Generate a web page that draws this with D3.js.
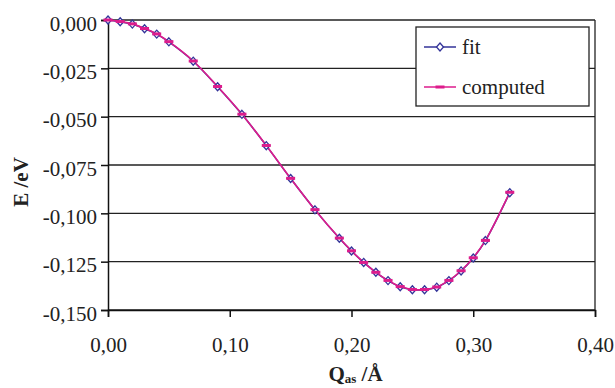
<!DOCTYPE html>
<html>
<head>
<meta charset="utf-8">
<script src="https://cdn.jsdelivr.net/npm/d3@7"></script>
<style>
  body { margin: 0; background: #fff; }
  text { font-family: "Liberation Serif", "Times New Roman", serif; fill: #222; }
</style>
</head>
<body>
<div id="chart"></div>
<script>
// data
var qValues = [0, 0.01, 0.02, 0.03, 0.04, 0.05, 0.07, 0.09, 0.11, 0.13, 0.15, 0.17, 0.19,
  0.20, 0.21, 0.22, 0.23, 0.24, 0.25, 0.26, 0.27, 0.28, 0.29, 0.30, 0.31, 0.33];
var fitValues = [0, -0.0009, -0.0021, -0.0045, -0.0073, -0.0113, -0.0213, -0.0345, -0.0488,
  -0.0650, -0.0820, -0.0982, -0.1129, -0.1195, -0.1254, -0.1305, -0.1348, -0.1380, -0.1395,
  -0.1395, -0.1382, -0.1348, -0.1298, -0.1231, -0.1141, -0.0893];
var computedValues = [0, -0.0008, -0.0020, -0.0044, -0.0072, -0.0112, -0.0212, -0.0344, -0.0487,
  -0.0649, -0.0819, -0.0981, -0.1128, -0.1194, -0.1254, -0.1305, -0.1347, -0.1379, -0.1394,
  -0.1394, -0.1381, -0.1347, -0.1297, -0.1230, -0.1140, -0.0891];
var xTicks = [0, 0.1, 0.2, 0.3, 0.4];
var yTicks = [0, -0.025, -0.05, -0.075, -0.1, -0.125, -0.15];
var seriesNames = ['fit', 'computed'];

var width = 615, height = 388;
var margin = {top: 20, right: 20, bottom: 78, left: 108};
var fitColor = '#333399', compColor = '#dd1c8c';

var svg = d3.select('#chart').append('svg')
  .attr('width', width)
  .attr('height', height);

var x = d3.scaleLinear().domain([0, 0.4]).range([margin.left, width - margin.right]);
var y = d3.scaleLinear().domain([-0.15, 0]).range([height - margin.bottom, margin.top]);

var comma = function (fmt) {
  return function (d) { return d3.format(fmt)(d).replace('.', ',').replace('−', '-'); };
};

// gridlines
svg.append('g')
  .selectAll('line')
  .data(yTicks)
  .join('line')
  .attr('x1', x(0)).attr('x2', x(0.4))
  .attr('y1', function (d) { return y(d); })
  .attr('y2', function (d) { return y(d); })
  .attr('stroke', '#222')
  .attr('stroke-width', 1.3);

// right border
svg.append('line')
  .attr('x1', x(0.4)).attr('x2', x(0.4))
  .attr('y1', y(0)).attr('y2', y(-0.15))
  .attr('stroke', '#222').attr('stroke-width', 1.3);

var yAxis = svg.append('g')
  .attr('transform', 'translate(' + x(0) + ',0)')
  .call(d3.axisLeft(y).tickValues(yTicks).tickSize(7).tickPadding(4).tickFormat(comma('.3f')));

var xAxis = svg.append('g')
  .attr('transform', 'translate(0,' + y(-0.15) + ')')
  .call(d3.axisBottom(x).tickValues(xTicks).tickSize(7).tickPadding(20).tickFormat(comma('.2f')));

[yAxis, xAxis].forEach(function (ax) {
  ax.select('.domain').attr('stroke', '#111').attr('stroke-width', 1.5);
  ax.selectAll('.tick line').attr('stroke', '#111').attr('stroke-width', 1.5);
  ax.selectAll('.tick text')
    .attr('font-family', '"Liberation Serif", "Times New Roman", serif')
    .attr('font-size', 21)
    .attr('fill', '#222');
});
yAxis.selectAll('.tick text').attr('dy', '0.48em');

// axis titles
svg.append('text')
  .attr('transform', 'translate(28,182) rotate(-90)')
  .attr('text-anchor', 'middle')
  .attr('font-size', 21)
  .attr('font-weight', 'bold')
  .text('E /eV');

var xt = svg.append('text')
  .attr('x', (x(0) + x(0.4)) / 2 + 4)
  .attr('y', 381)
  .attr('text-anchor', 'middle')
  .attr('font-size', 21)
  .attr('font-weight', 'bold');
xt.append('tspan').text('Q');
xt.append('tspan').attr('font-size', 13).attr('dy', 2).text('as');
xt.append('tspan').attr('dy', -2).text(' /Å');

// series
var fitData = qValues.map(function (q, i) { return {q: q, e: fitValues[i]}; });
var compData = qValues.map(function (q, i) { return {q: q, e: computedValues[i]}; });

var line = d3.line()
  .x(function (d) { return x(d.q); })
  .y(function (d) { return y(d.e); })
  .curve(d3.curveCatmullRom);

svg.append('path')
  .datum(fitData)
  .attr('d', line)
  .attr('fill', 'none')
  .attr('stroke', fitColor)
  .attr('stroke-width', 1.5);

svg.append('path')
  .datum(compData)
  .attr('d', line)
  .attr('fill', 'none')
  .attr('stroke', compColor)
  .attr('stroke-width', 1.6);

var diamond = 'M0,-4L3.5,0L0,4L-3.5,0Z';

svg.append('g')
  .selectAll('path')
  .data(fitData)
  .join('path')
  .attr('transform', function (d) { return 'translate(' + x(d.q) + ',' + y(d.e) + ')'; })
  .attr('d', diamond)
  .attr('fill', '#fff')
  .attr('stroke', fitColor)
  .attr('stroke-width', 1.3);

svg.append('g')
  .selectAll('rect')
  .data(compData)
  .join('rect')
  .attr('x', function (d) { return x(d.q) - 4.5; })
  .attr('y', function (d) { return y(d.e) - 1.5; })
  .attr('width', 9)
  .attr('height', 3)
  .attr('fill', compColor);

// legend
var legend = svg.append('g').attr('transform', 'translate(416,27)');
legend.append('rect')
  .attr('width', 173).attr('height', 79)
  .attr('fill', '#fff')
  .attr('stroke', '#222')
  .attr('stroke-width', 1.3);

var items = legend.selectAll('g.item')
  .data(seriesNames)
  .join('g')
  .attr('class', 'item')
  .attr('transform', function (d, i) { return 'translate(0,' + (20 + i * 40) + ')'; });

items.append('line')
  .attr('x1', 8).attr('x2', 40)
  .attr('stroke', function (d, i) { return i === 0 ? fitColor : compColor; })
  .attr('stroke-width', 1.5);

items.filter(function (d, i) { return i === 0; })
  .append('path')
  .attr('transform', 'translate(24,0)')
  .attr('d', diamond)
  .attr('fill', '#fff')
  .attr('stroke', fitColor)
  .attr('stroke-width', 1.3);

items.filter(function (d, i) { return i === 1; })
  .append('rect')
  .attr('x', 19.5).attr('y', -1.5)
  .attr('width', 9).attr('height', 3)
  .attr('fill', compColor);

items.append('text')
  .attr('x', 46)
  .attr('y', 7)
  .attr('font-size', 21)
  .text(function (d) { return d; });
</script>
</body>
</html>
